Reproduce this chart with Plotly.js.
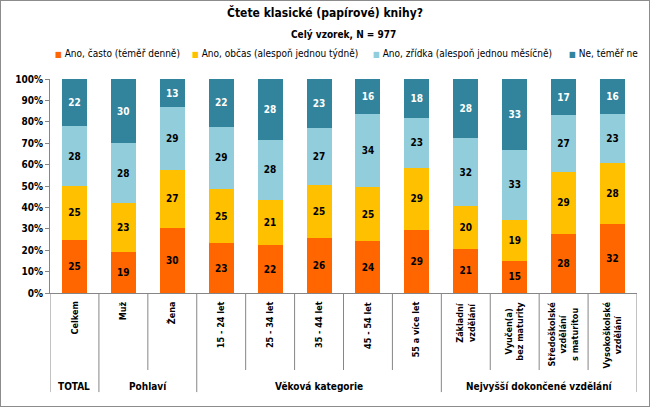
<!DOCTYPE html>
<html>
<head>
<meta charset="utf-8">
<script src="https://cdn.plot.ly/plotly-3.0.1.min.js"></script>
<style>
html,body{margin:0;padding:0;background:#fff;}
#chart{width:650px;height:407px;box-sizing:border-box;border:1px solid #8c8c8c;}
</style>
</head>
<body>
<div id="chart"></div>
<script>
const categories = ["Celkem","Muž","Žena","15 - 24 let","25 - 34 let","35 - 44 let","45 - 54 let","55 a více let","Základní<br>vzdělání","Vyučen(a)<br>bez maturity","Středoškolské<br>vzdělání<br>s maturitou","Vysokoškolské<br>vzdělání"];
const groups = ["TOTAL","Pohlaví","Věková kategorie","Nejvyšší dokončené vzdělání"];
const groupSizes = [1,2,5,4];
const seriesNames = ["Ano, často (téměř denně)","Ano, občas (alespoň jednou týdně)","Ano, zřídka (alespoň jednou měsíčně)","Ne, téměř ne"];
const casto  = [25,19,30,23,22,26,24,29,21,15,28,32];
const obcas  = [25,23,27,25,21,25,25,29,20,19,29,28];
const zridka = [28,28,29,29,28,27,34,23,32,33,27,23];
const ne     = [22,30,13,22,28,23,16,18,28,33,17,16];
const seriesValues = [casto, obcas, zridka, ne];
const colors = ["#FF6600","#FFC000","#92CDDC","#31849B"];
const textColors = ["#000","#000","#000","#fff"];
const FONT = "'DejaVu Sans Condensed', 'DejaVu Sans', sans-serif";

const traces = seriesValues.map((vals, i) => ({
  type: "bar",
  name: seriesNames[i],
  x: categories,
  y: vals,
  text: vals.map(String),
  textposition: "inside",
  insidetextanchor: "middle",
  textangle: 0,
  constraintext: "none",
  textfont: {family: FONT, size: 10, color: textColors[i], weight: "bold"},
  marker: {color: colors[i], line: {width: 0}},
  showlegend: false,
  hoverinfo: "skip"
}));

const annotations = [];
// subtitle
annotations.push({text: "<b>Celý vzorek, N = 977</b>", xref: "paper", yref: "paper", x: 0.5, y: 1.21, showarrow: false, font: {family: FONT, size: 10, color: "#000"}, xanchor: "center", yanchor: "middle"});
// legend
const legendX = [0.005, 0.238, 0.547, 0.881];
seriesNames.forEach((n, i) => {
  annotations.push({text: `<span style="color:${colors[i]};font-size:8px">■</span> ${n}`, xref: "paper", yref: "paper", x: legendX[i], y: 1.121, xanchor: "left", yanchor: "middle", showarrow: false, font: {family: FONT, size: 10, color: "#000"}});
});
// category labels
categories.forEach((c, i) => {
  annotations.push({text: `<b>${c}</b>`, xref: "x", yref: "paper", x: i, y: -0.03, textangle: -90, xanchor: "center", yanchor: "top", align: "center", showarrow: false, font: {family: FONT, size: 9, color: "#000"}});
});
// group labels & separators
const shapes = [];
let start = 0;
groups.forEach((g, gi) => {
  const end = start + groupSizes[gi];
  annotations.push({text: `<b>${g}</b>`, xref: "x", yref: "paper", x: (start + end - 1) / 2, y: -0.435, xanchor: "center", yanchor: "middle", showarrow: false, font: {family: FONT, size: 10, color: "#000"}});
  shapes.push({type: "line", xref: "x", yref: "paper", x0: start - 0.5, x1: start - 0.5, y0: 0, y1: -0.463, line: {color: "#868686", width: 1}});
  for (let k = start + 1; k < end; k++) {
    shapes.push({type: "line", xref: "x", yref: "paper", x0: k - 0.5, x1: k - 0.5, y0: 0, y1: -0.36, line: {color: "#868686", width: 1}});
  }
  start = end;
});
shapes.push({type: "line", xref: "x", yref: "paper", x0: start - 0.5, x1: start - 0.5, y0: 0, y1: -0.463, line: {color: "#868686", width: 1}});

const layout = {
  width: 648, height: 405,
  margin: {l: 49, r: 12, t: 78, b: 113},
  paper_bgcolor: "#fff", plot_bgcolor: "#fff",
  barmode: "stack", barnorm: "percent", bargap: 0.49,
  title: {text: "<b>Čtete klasické (papírové) knihy?</b>", x: 0.5, xanchor: "center", y: 0.97, yref: "container", yanchor: "middle", font: {family: FONT, size: 12, color: "#000"}},
  font: {family: FONT},
  xaxis: {type: "category", showticklabels: false, showline: true, linecolor: "#868686", linewidth: 1, ticks: "", showgrid: false, zeroline: false, range: [-0.5, 11.5], fixedrange: true},
  yaxis: {range: [0, 100], dtick: 10, ticksuffix: "%", ticks: "outside", ticklen: 4, tickcolor: "#868686", showline: true, linecolor: "#868686", linewidth: 1, showgrid: false, zeroline: false, tickfont: {family: FONT, size: 10, color: "#000", weight: "bold"}, fixedrange: true},
  annotations: annotations,
  shapes: shapes,
  showlegend: false
};

Plotly.newPlot("chart", traces, layout, {displayModeBar: false, staticPlot: true});
</script>
</body>
</html>
